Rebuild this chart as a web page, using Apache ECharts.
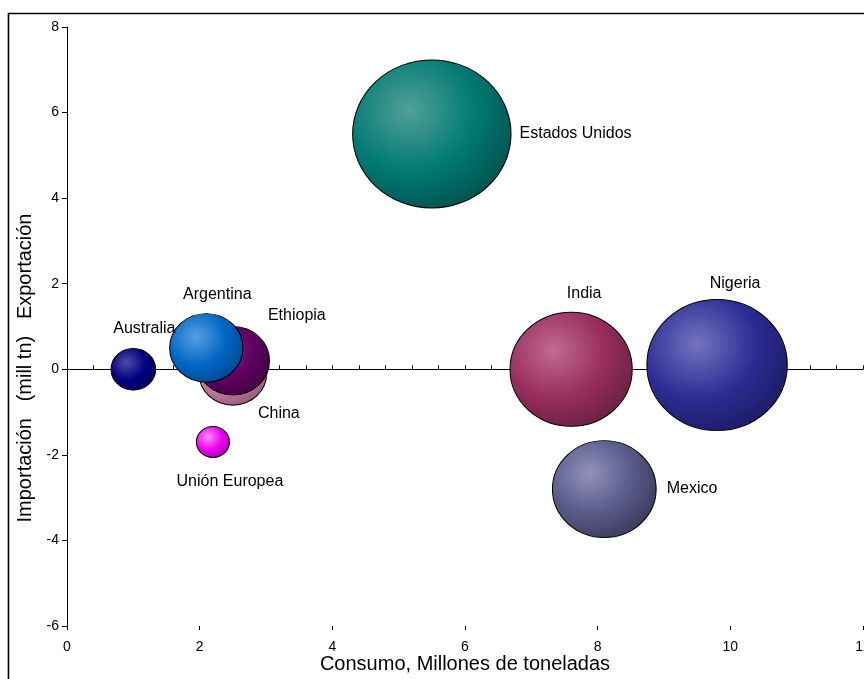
<!DOCTYPE html>
<html><head><meta charset="utf-8">
<script src="https://cdn.jsdelivr.net/npm/echarts@6/dist/echarts.min.js"></script>
<style>html,body{margin:0;padding:0;background:#fff}#c{width:864px;height:679px}</style>
</head><body><div id="c"></div>
<script>
// Data (sorghum-like balance): consumption (x), net trade (y), production (bubble size)
const countries = ['Estados Unidos','Nigeria','India','Mexico','China','Ethiopia','Argentina','Australia','Unión Europea'];
const consumo   = [5.5, 9.8, 7.6, 8.1, 2.5, 2.5, 2.1, 1.0, 2.2];
const balance   = [5.5, 0.1, 0.0, -2.8, -0.1, 0.2, 0.5, 0.0, -1.7];
const produccion= [12.6, 9.9, 7.5, 5.4, 2.3, 2.7, 2.7, 1.0, 0.55];
const xTicks = [0, 2, 4, 6, 8, 10, 12];
const yTicks = [-6, -4, -2, 0, 2, 4, 6, 8];
const xTitle = 'Consumo, Millones de toneladas';
const yTitle = 'Importación   (mill tn)   Exportación';

// Styles (kept apart from the data)
const palette = {
  'Estados Unidos': ['#52a099', '#007a73', '#004f4a'],
  'Nigeria':        ['#7474c0', '#2c2c94', '#1a1a60'],
  'India':          ['#c06a94', '#982d5e', '#64203f'],
  'Mexico':         ['#9292bc', '#5a5a8a', '#383858'],
  'China':          ['#dca6c4', '#c07aa0', '#965678'],
  'Ethiopia':       ['#863686', '#600060', '#400040'],
  'Argentina':      ['#559fe2', '#0066c4', '#00468c'],
  'Australia':      ['#4c4ca6', '#000080', '#00005a'],
  'Unión Europea':  ['#ff88ff', '#ee00ee', '#a800a8']
};
const labelCfg = {
  'Estados Unidos': {position:'right', distance:8},
  'Nigeria':        {position:'inside', offset:[18,-81]},
  'India':          {position:'inside', offset:[13,-76]},
  'Mexico':         {position:'right', distance:10},
  'China':          {position:'inside', offset:[46,40]},
  'Ethiopia':       {position:'inside', offset:[64,-45]},
  'Argentina':      {position:'inside', offset:[11,-53]},
  'Australia':      {position:'inside', offset:[11,-41]},
  'Unión Europea':  {position:'inside', offset:[17,40]}
};
const K = 41.7, ASPECT = 1.07;
const FONT = 'Liberation Sans, Arial, sans-serif';

const data = countries.map((n, i) => {
  const p = palette[n];
  return {
    name: n,
    value: [consumo[i], balance[i], produccion[i]],
    itemStyle: {
      opacity: 1,
      color: {type:'radial', x:0.36, y:0.34, r:0.75,
        colorStops:[{offset:0,color:p[0]},{offset:0.55,color:p[1]},{offset:1,color:p[2]}]},
      borderColor:'#000', borderWidth:1
    },
    label: Object.assign({show:true, formatter:'{b}', color:'#000', fontSize:16,
      fontFamily:FONT, textBorderWidth:0}, labelCfg[n])
  };
});

const chart = echarts.init(document.getElementById('c'));
chart.setOption({
  animation:false,
  backgroundColor:'#fff',
  grid:{left:67, right:1, top:27, bottom:53, containLabel:false, outerBoundsMode:'none'},
  graphic:[
    {type:'rect', shape:{x:8.5, y:13.5, width:900, height:700}, style:{fill:'none', stroke:'#000', lineWidth:1.6}, z:-1},
    {type:'text', x:25, y:368, rotation:Math.PI/2,
      style:{text:yTitle, font:'20px ' + FONT, fill:'#000',
        textAlign:'center', textVerticalAlign:'middle'}},
    {type:'text', x:465, y:664,
      style:{text:xTitle, font:'20px ' + FONT, fill:'#000',
        textAlign:'center', textVerticalAlign:'middle'}}
  ],
  xAxis:[
    {type:'value', min:xTicks[0], max:xTicks[xTicks.length-1], interval:2, position:'bottom',
      axisLine:{show:false, onZero:false}, axisTick:{show:false}, minorTick:{show:false},
      splitLine:{show:false}, minorSplitLine:{show:false},
      axisLabel:{show:true, color:'#000', fontSize:14, fontFamily:FONT, margin:14, showMaxLabel:true}},
    {type:'value', min:xTicks[0], max:xTicks[xTicks.length-1], interval:2, position:'bottom',
      axisLine:{show:true, onZero:true, lineStyle:{color:'#000', width:1}},
      axisTick:{show:true, inside:true, length:4, lineStyle:{color:'#000'}},
      minorTick:{show:true, splitNumber:5, length:4, lineStyle:{color:'#000'}},
      axisLabel:{show:false}, splitLine:{show:false}, minorSplitLine:{show:false}},
    {type:'value', min:xTicks[0], max:xTicks[xTicks.length-1], interval:2, position:'bottom',
      axisLine:{show:false, onZero:true},
      axisTick:{show:true, inside:false, length:4, lineStyle:{color:'#000'}},
      minorTick:{show:false},
      axisLabel:{show:false}, splitLine:{show:false}, minorSplitLine:{show:false}}
  ],
  yAxis:{type:'value', min:yTicks[0], max:yTicks[yTicks.length-1], interval:2,
    axisLine:{show:true, onZero:false, lineStyle:{color:'#000', width:1}},
    axisTick:{show:true, length:5, lineStyle:{color:'#000'}},
    minorTick:{show:false},
    axisLabel:{color:'#000', fontSize:14, fontFamily:FONT, margin:8},
    splitLine:{show:false}},
  series:[{
    type:'scatter', xAxisIndex:0, yAxisIndex:0,
    symbol:'circle',
    symbolSize: v => [K*ASPECT*Math.sqrt(v[2]), K*Math.sqrt(v[2])],
    itemStyle:{opacity:1},
    emphasis:{disabled:true},
    data: data
  }]
});
</script></body></html>
